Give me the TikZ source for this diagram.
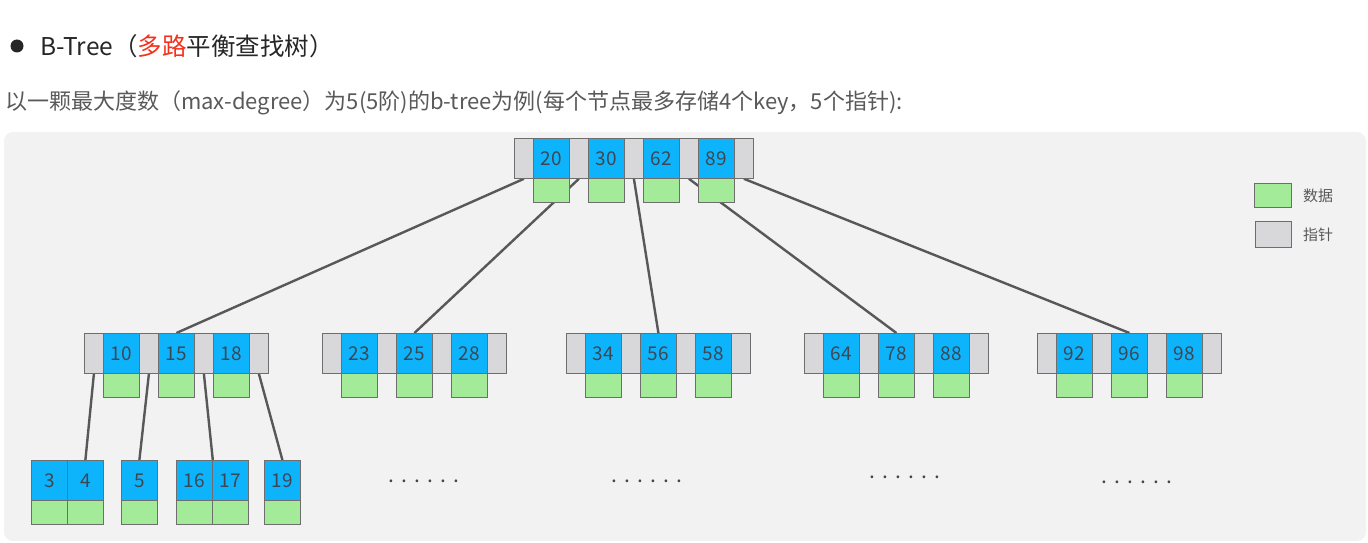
\documentclass[tikz,border=0pt]{standalone}
\usepackage{fontspec}
\setmainfont{Noto Sans CJK SC}
\usepackage{xcolor}
\usetikzlibrary{positioning,backgrounds}
\definecolor{keyblue}{HTML}{0DB4FC}
\definecolor{datagreen}{HTML}{A3EA99}
\definecolor{ptrgray}{HTML}{D8D8DA}
\definecolor{cellline}{HTML}{6E6E6E}
\definecolor{panelbg}{HTML}{F2F2F2}
\definecolor{linkgray}{HTML}{585858}
\definecolor{titleink}{HTML}{262626}
\definecolor{subink}{HTML}{595959}
\definecolor{hotred}{HTML}{F5301C}
\definecolor{numink}{HTML}{3D4753}
\def\sixdots{.\kern7pt.\kern7pt.\kern7pt.\kern7pt.\kern7pt.}
\tikzset{
  cell/.style={draw=cellline,line width=0.8pt,inner sep=0pt,
               minimum height=40pt,anchor=north west},
  ptrbox/.style={cell,fill=ptrgray,minimum width=19pt},
  keybox/.style={cell,fill=keyblue,minimum width=36pt,text=numink,
                 font=\fontsize{19}{19}\selectfont},
  databox/.style={cell,fill=datagreen,minimum width=36pt,minimum height=24pt},
  link/.style={linkgray,line width=2.4pt},
  dotrow/.style={inner sep=0pt,text=linkgray!80!black,font=\fontsize{21}{21}\selectfont},
}

\begin{document}
\begin{tikzpicture}[x=1pt,y=-1pt]
  \useasboundingbox (0,0) rectangle (1368,543);
  % Heading
  \fill[titleink] (17,46) circle (6.5pt);
  \node[anchor=west,inner sep=0pt,text=titleink,font=\fontsize{24.5}{24.5}\selectfont]
    (title) at (40,46) {B-Tree（\textcolor{hotred}{多路}平衡查找树）};
  \node[anchor=west,inner sep=0pt,text=subink,font=\fontsize{22}{22}\selectfont]
    (subtitle) at (5,103)
    {以一颗最大度数（max-degree）为5(5阶)的b-tree为例(每个节点最多存储4个key，5个指针):};
  % Inner nodes: name/left/top/pointers/keys
  \foreach \nd/\lx/\ty/\np/\keys in {
    r/514/138/5/{20,30,62,89},
    a/84/333/4/{10,15,18},  b/322/333/4/{23,25,28},
    c/566/333/4/{34,56,58}, d/804/333/4/{64,78,88},
    e/1037/333/4/{92,96,98}%
  }{
    \foreach \k [count=\i] in \keys {
      \pgfmathsetmacro{\xp}{\lx+(\i-1)*55}
      \pgfmathsetmacro{\xk}{\xp+19}
      \node[ptrbox] (\nd-p\i) at (\xp,\ty) {};
      \node[keybox] (\nd-k\i) at (\xk,\ty) {\k};
      \node[databox] (\nd-d\i) at (\xk,\ty+40) {};
    }
    \pgfmathsetmacro{\xl}{\lx+(\np-1)*55}
    \node[ptrbox] (\nd-p\np) at (\xl,\ty) {};
  }
  % Leaves
  \foreach \nd/\lx/\keys in {l1/31/{3,4},l2/121/{5},l3/176/{16,17},l4/264/{19}}{
    \foreach \k [count=\i] in \keys {
      \pgfmathsetmacro{\xk}{\lx+(\i-1)*36}
      \node[keybox] (\nd-k\i) at (\xk,460) {\k};
      \node[databox] (\nd-d\i) at (\xk,500) {};
    }
  }
  % Elided subtrees
  \node[dotrow] (more1) at (424,481) {\sixdots};
  \node[dotrow] (more2) at (647,481) {\sixdots};
  \node[dotrow] (more3) at (905,477) {\sixdots};
  \node[dotrow] (more4) at (1137,482) {\sixdots};
  % Legend
  \node[databox,minimum width=37pt] (lg-d) at (1254,183) {};
  \node[ptrbox,minimum width=36pt,minimum height=26pt] (lg-p) at (1255,221) {};
  \node[inner sep=0pt,text=subink,font=\fontsize{15}{15}\selectfont,
        right=11pt of lg-d] (lg-dt) {数据};
  \node[inner sep=0pt,text=subink,font=\fontsize{15}{15}\selectfont,
        right=11pt of lg-p] (lg-pt) {指针};
  % Panel and links behind the cells
  \begin{scope}[on background layer]
    \fill[panelbg,rounded corners=9pt] (4,132) rectangle (1366,541);
    \draw[link] (r-p1.south) -- (a-k2.north);
    \draw[link] (r-p2.south) -- (b-k2.north);
    \draw[link] (r-p3.south) -- (c-k2.north);
    \draw[link] (r-p4.south) -- (d-k2.north);
    \draw[link] (r-p5.south) -- (e-k2.north);
    \draw[link] (a-p1.south) -- (l1-k2.north);
    \draw[link] (a-p2.south) -- (l2-k1.north);
    \draw[link] (a-p3.south) -- (l3-k1.north east);
    \draw[link] (a-p4.south) -- (l4-k1.north);
  \end{scope}
\end{tikzpicture}
\end{document}
